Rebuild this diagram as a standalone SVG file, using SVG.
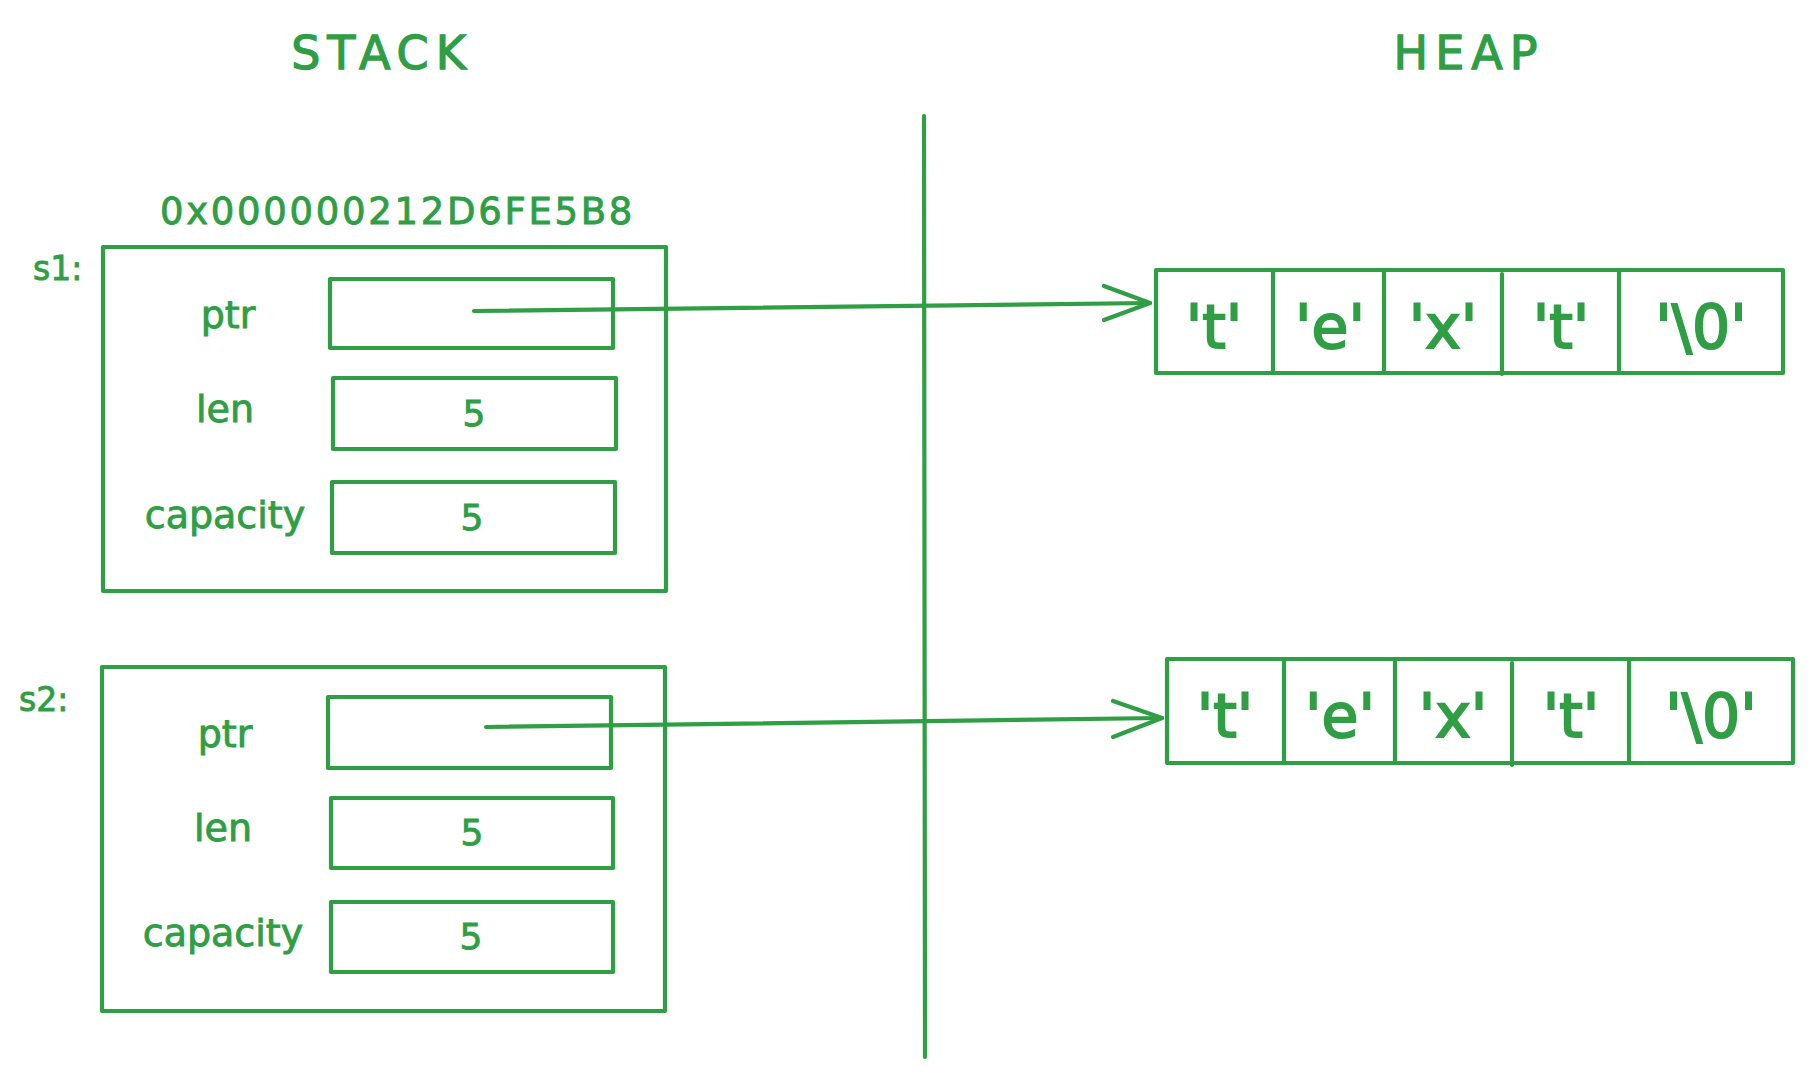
<svg xmlns="http://www.w3.org/2000/svg" width="1813" height="1078" viewBox="0 0 1813 1078">
<style>
.s{fill:none;stroke:#2f9e44;stroke-width:4.2;stroke-linecap:round;stroke-linejoin:round}
.t{fill:#2f9e44;stroke:#2f9e44;stroke-width:0.9;font-family:"DejaVu Sans","Noto Sans",sans-serif}
.title{font-size:46px;letter-spacing:7px;text-anchor:middle;stroke-width:1.3}
.lbl{font-size:38px;text-anchor:middle}
.num{font-size:36px;text-anchor:middle}
.ch{font-size:60px;text-anchor:middle;stroke-width:2}
</style>
<rect width="1813" height="1078" fill="#ffffff"/>
<text class="t title" x="382" y="69">STACK</text>
<text class="t title" x="1469" y="69">HEAP</text>
<line class="s" x1="924" y1="116" x2="925" y2="1057"/>
<text class="t" x="160" y="224" font-size="37" letter-spacing="2.7">0x000000212D6FE5B8</text>
<g id="s1">
<text class="t" x="33" y="280" font-size="33">s1:</text>
<rect class="s" x="103" y="247" width="563" height="344"/>
<g id="s1-ptr"><rect class="s" x="330" y="279" width="283" height="69"/><text class="t lbl" x="228" y="328">ptr</text></g>
<g id="s1-len"><rect class="s" x="333" y="378" width="283" height="71"/><text class="t lbl" x="225" y="422">len</text><text class="t num" x="474" y="426">5</text></g>
<g id="s1-cap"><rect class="s" x="332" y="482" width="283" height="71"/><text class="t lbl" x="225" y="528">capacity</text><text class="t num" x="472" y="530">5</text></g>
</g>
<g id="s2">
<text class="t" x="19" y="711" font-size="33">s2:</text>
<rect class="s" x="102" y="667" width="563" height="344"/>
<g id="s2-ptr"><rect class="s" x="328" y="697" width="283" height="71"/><text class="t lbl" x="225" y="747">ptr</text></g>
<g id="s2-len"><rect class="s" x="331" y="798" width="282" height="70"/><text class="t lbl" x="223" y="841">len</text><text class="t num" x="472" y="845">5</text></g>
<g id="s2-cap"><rect class="s" x="331" y="902" width="282" height="70"/><text class="t lbl" x="223" y="946">capacity</text><text class="t num" x="471" y="949">5</text></g>
</g>
<g id="heap1">
<rect class="s" x="1156" y="270" width="627" height="103"/>
<line class="s" x1="1273" y1="272" x2="1273" y2="372"/>
<line class="s" x1="1384" y1="272" x2="1384" y2="372"/>
<line class="s" x1="1502" y1="274" x2="1502" y2="374"/>
<line class="s" x1="1619" y1="272" x2="1619" y2="372"/>
<text class="t ch" x="1214" y="348">'t'</text>
<text class="t ch" x="1330" y="348">'e'</text>
<text class="t ch" x="1443" y="348">'x'</text>
<text class="t ch" x="1561" y="348">'t'</text>
<text class="t ch" x="1701" y="348">'\0'</text>
</g>
<g id="heap2">
<rect class="s" x="1167" y="659" width="626" height="104"/>
<line class="s" x1="1284" y1="661" x2="1284" y2="762"/>
<line class="s" x1="1395" y1="661" x2="1395" y2="762"/>
<line class="s" x1="1512" y1="663" x2="1512" y2="765"/>
<line class="s" x1="1629" y1="661" x2="1629" y2="762"/>
<text class="t ch" x="1225" y="737">'t'</text>
<text class="t ch" x="1340" y="737">'e'</text>
<text class="t ch" x="1453" y="737">'x'</text>
<text class="t ch" x="1571" y="737">'t'</text>
<text class="t ch" x="1711" y="737">'\0'</text>
</g>
<g id="connectors">
<path class="s" d="M474 311 L1150 303"/>
<path class="s" d="M1104 286 L1150 303 L1104 320"/>
<path class="s" d="M486 727 L1162 718"/>
<path class="s" d="M1113 701 L1162 718 L1113 737"/>
</g>
</svg>
